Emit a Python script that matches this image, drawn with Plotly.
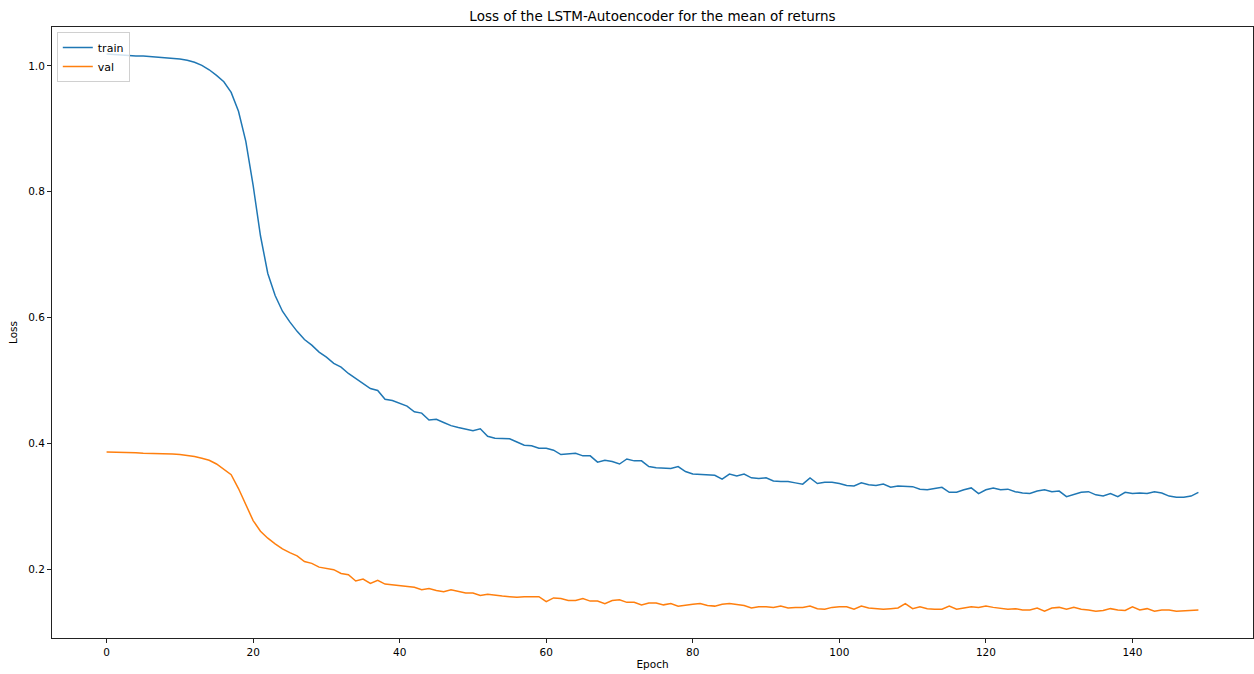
import plotly.graph_objects as go

epochs = list(range(150))

train_loss = [
    1.019, 1.018, 1.017, 1.017, 1.016, 1.016, 1.015, 1.015, 1.014, 1.013,
    1.011, 1.009, 1.006, 1.001, 0.994, 0.985, 0.975, 0.958, 0.928, 0.880,
    0.810, 0.730, 0.670, 0.635, 0.610, 0.593, 0.578, 0.565, 0.556, 0.545,
    0.537, 0.527, 0.521, 0.511, 0.503, 0.494, 0.487, 0.484, 0.470, 0.468,
    0.464, 0.459, 0.450, 0.448, 0.437, 0.438, 0.433, 0.428, 0.425, 0.422,
    0.420, 0.423, 0.411, 0.408, 0.407, 0.407, 0.402, 0.397, 0.396, 0.392,
    0.392, 0.389, 0.382, 0.383, 0.384, 0.380, 0.380, 0.370, 0.373, 0.371,
    0.367, 0.375, 0.372, 0.372, 0.363, 0.361, 0.361, 0.360, 0.363, 0.355,
    0.351, 0.350, 0.350, 0.349, 0.343, 0.351, 0.348, 0.351, 0.345, 0.344,
    0.345, 0.340, 0.339, 0.339, 0.337, 0.335, 0.345, 0.336, 0.338, 0.338,
    0.336, 0.333, 0.332, 0.337, 0.334, 0.333, 0.335, 0.330, 0.332, 0.331,
    0.331, 0.327, 0.326, 0.328, 0.330, 0.322, 0.322, 0.326, 0.329, 0.320,
    0.326, 0.329, 0.326, 0.327, 0.323, 0.321, 0.320, 0.324, 0.326, 0.323,
    0.324, 0.315, 0.318, 0.322, 0.323, 0.318, 0.316, 0.320, 0.315, 0.322,
    0.320, 0.321, 0.320, 0.323, 0.321, 0.316, 0.314, 0.314, 0.316, 0.322,
]

val_loss = [
    0.386, 0.386, 0.385, 0.385, 0.385, 0.384, 0.384, 0.384, 0.383, 0.383,
    0.382, 0.381, 0.379, 0.376, 0.373, 0.367, 0.359, 0.350, 0.328, 0.303,
    0.277, 0.260, 0.249, 0.240, 0.232, 0.226, 0.221, 0.212, 0.209, 0.203,
    0.201, 0.199, 0.193, 0.191, 0.181, 0.184, 0.177, 0.182, 0.176, 0.175,
    0.173, 0.172, 0.171, 0.167, 0.169, 0.166, 0.164, 0.167, 0.165, 0.162,
    0.162, 0.158, 0.160, 0.158, 0.157, 0.156, 0.155, 0.156, 0.156, 0.156,
    0.148, 0.154, 0.153, 0.150, 0.150, 0.153, 0.149, 0.149, 0.145, 0.150,
    0.151, 0.147, 0.147, 0.143, 0.146, 0.146, 0.143, 0.145, 0.141, 0.143,
    0.144, 0.145, 0.142, 0.141, 0.144, 0.145, 0.143, 0.142, 0.138, 0.140,
    0.140, 0.139, 0.141, 0.138, 0.139, 0.139, 0.141, 0.137, 0.136, 0.139,
    0.140, 0.140, 0.136, 0.141, 0.138, 0.137, 0.136, 0.137, 0.138, 0.145,
    0.137, 0.140, 0.137, 0.136, 0.136, 0.141, 0.136, 0.138, 0.140, 0.139,
    0.141, 0.139, 0.138, 0.136, 0.137, 0.135, 0.135, 0.138, 0.133, 0.138,
    0.139, 0.136, 0.139, 0.136, 0.135, 0.133, 0.134, 0.137, 0.135, 0.134,
    0.140, 0.135, 0.137, 0.133, 0.135, 0.135, 0.133, 0.134, 0.134, 0.135,
]

x_ticks = [0, 20, 40, 60, 80, 100, 120, 140]
y_ticks = [0.2, 0.4, 0.6, 0.8, 1.0]
y_tick_labels = ["0.2", "0.4", "0.6", "0.8", "1.0"]

FONT = "DejaVu Sans"

fig = go.Figure()
fig.add_trace(go.Scatter(x=epochs, y=train_loss, mode="lines", name="train",
                         line=dict(color="#1f77b4", width=1.5)))
fig.add_trace(go.Scatter(x=epochs, y=val_loss, mode="lines", name="val",
                         line=dict(color="#ff7f0e", width=1.5)))

axis_common = dict(
    showline=True, linecolor="#222222", linewidth=1, mirror=True,
    ticks="outside", ticklen=4, tickwidth=1, tickcolor="#222222",
    showgrid=False, zeroline=False,
    tickfont=dict(family=FONT, size=10.5, color="black"),
)

fig.update_layout(
    width=1254, height=674,
    margin=dict(l=52, r=1, t=27, b=36),
    paper_bgcolor="white", plot_bgcolor="white",
    font=dict(family=FONT, color="black"),
    title=dict(text="Loss of the LSTM-Autoencoder for the mean of returns",
               x=0.5, xref="paper", xanchor="center",
               y=1, yref="paper", yanchor="bottom", pad=dict(b=6),
               font=dict(family=FONT, size=13.5, color="black")),
    xaxis=dict(range=[-7.45, 156.45], tickvals=x_ticks,
               title=dict(text="Epoch", font=dict(family=FONT, size=10.5), standoff=4),
               **axis_common),
    yaxis=dict(range=[0.0903, 1.062], tickvals=y_ticks, ticktext=y_tick_labels,
               title=dict(text="Loss", font=dict(family=FONT, size=10.5), standoff=8),
               **axis_common),
    legend=dict(x=0.004, y=0.992, xanchor="left", yanchor="top",
                bgcolor="rgba(255,255,255,0.8)", bordercolor="#d0d0d0", borderwidth=1,
                font=dict(family=FONT, size=11, color="black"),
                itemwidth=30, tracegroupgap=0),
    showlegend=True,
)

fig.write_html("out.html")
